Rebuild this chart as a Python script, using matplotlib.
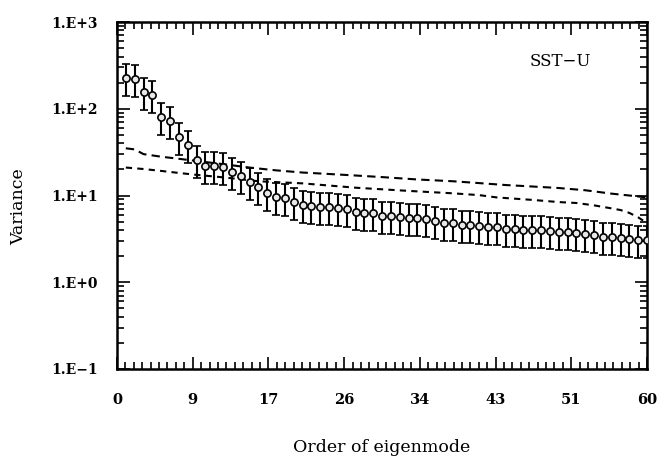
import numpy as np
import matplotlib
matplotlib.use("Agg")
import matplotlib.pyplot as plt
from matplotlib.ticker import FixedLocator, LogLocator, NullFormatter

# ---- data ----
modes = list(range(1, 61))
variance = [225, 220, 155, 144, 81, 73, 47, 38.7, 25.6, 22.0,
            21.6, 21.3, 18.6, 17.0, 14.2, 12.5, 10.7, 9.6, 9.3, 8.5,
            7.7, 7.55, 7.45, 7.42, 7.27, 7.08, 6.53, 6.33, 6.29, 5.81,
            5.81, 5.60, 5.55, 5.51, 5.37, 5.13, 4.83, 4.78, 4.58, 4.53,
            4.46, 4.38, 4.30, 4.15, 4.11, 4.04, 3.97, 3.97, 3.93, 3.80,
            3.76, 3.73, 3.57, 3.51, 3.36, 3.30, 3.27, 3.12, 3.04, 3.04]
err_up_frac = 0.45
err_dn_frac = 0.38

upper_x = [1, 2, 3, 5, 7, 9, 12, 15, 18, 21, 24, 27, 30, 34, 38, 41, 44, 47, 50, 53, 56, 58, 60]
upper_y = [35, 34, 30, 28, 26.5, 25, 23, 21, 19.5, 18.4, 17.7, 17.0, 16.3, 15.3, 14.6,
           13.9, 13.2, 12.7, 12.2, 11.5, 10.5, 10.0, 9.5]
lower_x = [1, 3, 5, 7, 9, 12, 14, 16, 21, 27, 33, 38, 41, 43, 47, 50, 52, 54, 56, 57, 58, 59, 60]
lower_y = [21, 20.2, 19.2, 18.2, 17.3, 16.2, 15.4, 14.6, 13.8, 12.3, 11.3, 10.6, 10.1,
           9.5, 8.9, 8.4, 8.2, 7.7, 7.1, 6.8, 6.3, 5.6, 4.8]

xtick_pos = [60 * k / 7 for k in range(8)]
xtick_labels = ["0", "9", "17", "26", "34", "43", "51", "60"]
ytick_pos = [0.1, 1, 10, 100, 1000]
ytick_labels = ["1.E\u22121", "1.E+0", "1.E+1", "1.E+2", "1.E+3"]

plt.rcParams['font.family'] = ['DejaVu Serif']

fig = plt.figure(figsize=(6.68, 4.57), dpi=100)
ax = fig.add_axes([117/668, 1 - 369/457, 530/668, 347/457])

v = np.array(variance)
yerr = [v * err_dn_frac, v * err_up_frac]
ax.errorbar(modes, v, yerr=yerr, fmt='o', ms=5.2, mfc='#e8e8e8', mec='black', mew=1.2,
            ecolor='black', elinewidth=1.5, capsize=3, capthick=1.3, color='black', zorder=3)
ax.plot(upper_x, upper_y, color='black', lw=1.5, dashes=(4, 2.5))
ax.plot(lower_x, lower_y, color='black', lw=1.5, dashes=(3, 2.5))

ax.set_yscale('log')
ax.set_xlim(0, 60)
ax.set_ylim(0.1, 1000)

ax.xaxis.set_major_locator(FixedLocator(xtick_pos))
ax.set_xticklabels(xtick_labels, fontsize=10.5, fontweight='bold')
ax.xaxis.set_minor_locator(FixedLocator([60 * k / 63 for k in range(64)]))
ax.yaxis.set_major_locator(FixedLocator(ytick_pos))
ax.set_yticklabels(ytick_labels, fontsize=10, fontweight='bold')
ax.yaxis.set_minor_locator(LogLocator(base=10, subs=np.arange(2, 10)))
ax.yaxis.set_minor_formatter(NullFormatter())

ax.tick_params(which='both', direction='in', top=True, right=True, width=1.2)
ax.tick_params(which='major', length=9)
ax.tick_params(which='minor', length=5)
ax.tick_params(axis='x', which='major', pad=17)
ax.tick_params(axis='y', which='major', pad=14)
for s in ax.spines.values():
    s.set_linewidth(1.8)

ax.text(0.895, 0.885, "SST\u2212U", transform=ax.transAxes, ha='right', va='center', fontsize=12)

fig.text(19/668, 1 - 207/457, "Variance", rotation=90, ha='center', va='center', fontsize=12.5)
fig.text(382/668, 1 - 447/457, "Order of eigenmode", ha='center', va='center', fontsize=12.5)

fig.savefig("out.png", dpi=100)
